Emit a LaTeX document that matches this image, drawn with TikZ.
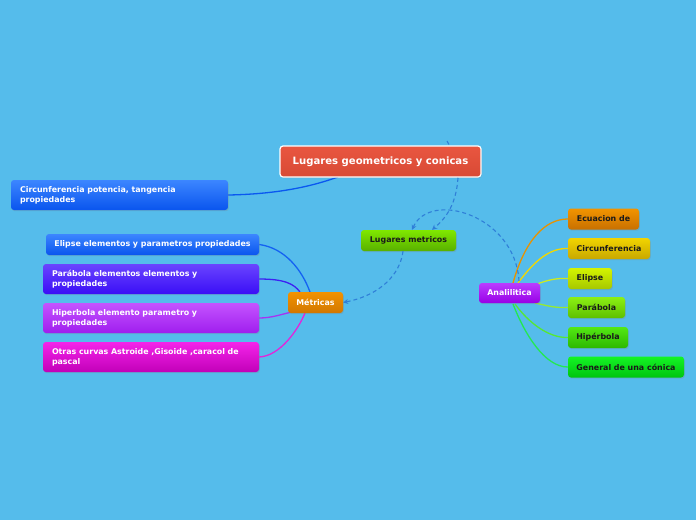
\documentclass[tikz,border=0pt]{standalone}
\usepackage{fontspec}
\setmainfont{DejaVu Sans}
\usepackage{xcolor}
\usetikzlibrary{arrows.meta, positioning, calc, shadows, backgrounds}
\definecolor{skyback}{HTML}{55BCEB}
\definecolor{relblue}{HTML}{2F7FD8}
\definecolor{darktext}{HTML}{1A1A1A}
% node fills (top / bottom)
\definecolor{centraltop}{HTML}{E95640}\definecolor{centralbot}{HTML}{D84A35}
\definecolor{lugtop}{HTML}{80E800}\definecolor{lugbot}{HTML}{58B000}
\definecolor{mettop}{HTML}{F29200}\definecolor{metbot}{HTML}{D27800}
\definecolor{anatop}{HTML}{BA3CFF}\definecolor{anabot}{HTML}{9800E6}
\definecolor{bluetop}{HTML}{3C86FF}\definecolor{bluebot}{HTML}{0A55EE}
\definecolor{indtop}{HTML}{6A44FF}\definecolor{indbot}{HTML}{3A0EF6}
\definecolor{purtop}{HTML}{C454FF}\definecolor{purbot}{HTML}{A01EEE}
\definecolor{magtop}{HTML}{F424EA}\definecolor{magbot}{HTML}{C200B8}
\definecolor{orgtop}{HTML}{F29400}\definecolor{orgbot}{HTML}{C87000}
\definecolor{yeltop}{HTML}{F2D400}\definecolor{yelbot}{HTML}{C8A800}
\definecolor{limtop}{HTML}{D4F400}\definecolor{limbot}{HTML}{A6C800}
\definecolor{grntop}{HTML}{8CF014}\definecolor{grnbot}{HTML}{5EC000}
\definecolor{gretop}{HTML}{54E814}\definecolor{grebot}{HTML}{2CB800}
\definecolor{emetop}{HTML}{14F424}\definecolor{emebot}{HTML}{00C410}
% branch lines
\definecolor{lblue}{HTML}{0A58F0}\definecolor{lblue2}{HTML}{1462F2}
\definecolor{lind}{HTML}{3C22F2}\definecolor{lpur}{HTML}{A634F2}
\definecolor{lmag}{HTML}{E424DA}\definecolor{lorg}{HTML}{E89200}
\definecolor{lyel}{HTML}{F2D800}\definecolor{llim}{HTML}{CCEA22}
\definecolor{lgrn}{HTML}{96EA32}\definecolor{lgre}{HTML}{56E834}
\definecolor{leme}{HTML}{24E852}

\begin{document}
\begin{tikzpicture}[x=1pt, y=-1pt,
    topic/.style={rounded corners=3pt, inner sep=0pt, minimum height=21pt,
        font=\bfseries\fontsize{7.9}{10}\selectfont,
        drop shadow={shadow xshift=0.8pt, shadow yshift=-1.2pt, opacity=0.25}},
    lighttopic/.style={topic, text=white},
    darktopic/.style={topic, text=darktext},
    longtopic/.style={lighttopic, minimum height=30pt, align=left, text width=#1},
    branch/.style={line width=1.3pt},
    relation/.style={draw=relblue, line width=1.1pt, dash pattern=on 4pt off 3pt,
        -{Stealth[length=5pt, width=5pt]}}]
    \useasboundingbox (0,0) rectangle (696,520);

    % central topic and main branches
    \node[lighttopic, minimum width=201pt, minimum height=31pt, draw=white, line width=1.2pt,
        top color=centraltop, bottom color=centralbot,
        font=\bfseries\fontsize{10.1}{12}\selectfont] (central) at (380.5,161.5) {Lugares geometricos y conicas};
    \node[darktopic, minimum width=95pt, top color=lugtop, bottom color=lugbot] (lugares) at (408.5,240.5) {Lugares metricos};
    \node[lighttopic, minimum width=55pt, top color=mettop, bottom color=metbot] (metricas) at (315.5,302.5) {Métricas};
    \node[lighttopic, minimum width=61pt, minimum height=20pt, top color=anatop, bottom color=anabot] (analitica) at (509.5,293) {Analilitica};

    % left side
    \node[longtopic=199pt, minimum width=217pt, top color=bluetop, bottom color=bluebot] (circpot) at (119.5,195) {Circunferencia potencia, tangencia\\propiedades};
    \node[lighttopic, minimum width=213pt, top color=bluetop, bottom color=bluebot] (elipelem) at (152.5,244.5) {Elipse elementos y parametros propiedades};
    \node[longtopic=198pt, minimum width=216pt, top color=indtop, bottom color=indbot] (parabelem) at (151,279) {Parábola elementos elementos y\\propiedades};
    \node[longtopic=198pt, minimum width=216pt, top color=purtop, bottom color=purbot] (hiperelem) at (151,318) {Hiperbola elemento parametro y\\propiedades};
    \node[longtopic=198pt, minimum width=216pt, top color=magtop, bottom color=magbot] (otras) at (151,357) {Otras curvas Astroide ,Gisoide ,caracol de\\pascal};

    % right side
    \node[darktopic, minimum width=71pt, top color=orgtop, bottom color=orgbot] (ecuacion) at (603.5,219) {Ecuacion de};
    \node[darktopic, minimum width=82pt, top color=yeltop, bottom color=yelbot] (circ) at (609,248.5) {Circunferencia};
    \node[darktopic, minimum width=44pt, top color=limtop, bottom color=limbot] (elipse) at (590,278.5) {Elipse};
    \node[darktopic, minimum width=57pt, top color=grntop, bottom color=grnbot] (parabola) at (596.5,307.5) {Parábola};
    \node[darktopic, minimum width=60pt, top color=gretop, bottom color=grebot] (hiperbola) at (598,337.5) {Hipérbola};
    \node[darktopic, minimum width=116pt, top color=emetop, bottom color=emebot] (general) at (626,367) {General de una cónica};

    \begin{pgfonlayer}{background}
        \fill[skyback] (0,0) rectangle (696,520);
        \coordinate (cbottom) at (338,177);
        \coordinate (ctop) at (447,141);
        \coordinate (atop) at (519,281);
        \draw[branch, draw=lblue] (circpot.east) .. controls (285,194) and (318,184) .. (cbottom);
        \draw[branch, draw=lblue2] (elipelem.east) .. controls (285,248) and (302,270) .. (310,292);
        \draw[branch, draw=lind] (parabelem.east) .. controls (285,279) and (294,284) .. (300,292);
        \draw[branch, draw=lpur] (hiperelem.east) .. controls (272,318) and (282,314) .. (292,312);
        \draw[branch, draw=lmag] (otras.east) .. controls (280,356) and (298,330) .. (305,313);
        \draw[branch, draw=lorg] (513,283) .. controls (525,240) and (545,219) .. (ecuacion.west);
        \draw[branch, draw=lyel] (518,283) .. controls (535,260) and (550,248) .. (circ.west);
        \draw[branch, draw=llim] (537,284) .. controls (548,280) and (556,278) .. (elipse.west);
        \draw[branch, draw=lgrn] (535,303) .. controls (548,306) and (556,308) .. (parabola.west);
        \draw[branch, draw=lgre] (515,304) .. controls (528,322) and (548,338) .. (hiperbola.west);
        \draw[branch, draw=leme] (513,304) .. controls (525,335) and (545,367) .. (general.west);
        \draw[relation, -] (ctop) .. controls (458,160) and (458,170) .. (458,178);
    \end{pgfonlayer}

    % relations
    \draw[relation] (458,178) .. controls (456,205) and (446,218) .. (lugares.north -| 432,0);
    \draw[relation] (atop) .. controls (515,215) and (430,190) .. (lugares.north -| 412,0);
    \draw[relation] (lugares.south -| 403,0) .. controls (400,275) and (380,295) .. (metricas.east);
\end{tikzpicture}
\end{document}
